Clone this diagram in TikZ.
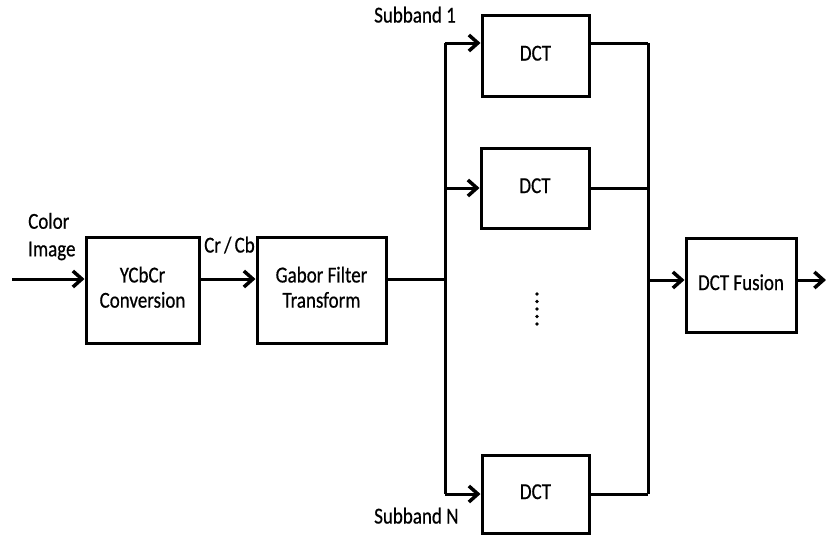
\documentclass[tikz,border=0pt]{standalone}
\usepackage{fontspec}
\setmainfont[FakeBold=0.6]{Carlito}
\usetikzlibrary{arrows.meta}
\newcommand{\stx}[2][c]{\scalebox{1}[1.2]{\begin{tabular}{@{}#1@{}}#2\end{tabular}}}
\begin{document}
\begin{tikzpicture}[x=1pt,y=-1pt,
  blk/.style={draw,line width=3pt,rectangle,inner sep=0pt,font=\fontsize{19}{21}\selectfont},
  wire/.style={line width=3pt},
  arr/.style={line width=3pt,-{Straight Barb[length=9pt,width=16pt,line width=3.5pt]}},
  lbl/.style={inner sep=0pt,font=\fontsize{19}{23}\selectfont}]
\useasboundingbox (0,0) rectangle (826,536);
% blocks
\node[blk,minimum width=113pt,minimum height=106pt] (ycc) at (142.5,290) {\stx{YCbCr\\Conversion}};
\node[blk,minimum width=129pt,minimum height=106pt] (gab) at (321.5,290) {\stx{Gabor Filter\\Transform}};
\node[blk,minimum width=107pt,minimum height=81pt] (d1) at (535.5,55.5) {\stx{DCT}};
\node[blk,minimum width=108pt,minimum height=80pt] (d2) at (535,188) {\stx{DCT}};
\node[blk,minimum width=107pt,minimum height=78pt] (dn) at (535.5,494) {\stx{DCT}};
\node[blk,minimum width=110pt,minimum height=94pt] (fus) at (741,285) {\stx{DCT Fusion}};
% coordinates
\coordinate (in) at (12,279);
\coordinate (s1) at (445,43);
\coordinate (s2) at (445,188);
\coordinate (sn) at (445,494);
\coordinate (sm) at (445,279);
\coordinate (m1) at (648,43);
\coordinate (m2) at (648,188);
\coordinate (mn) at (648,494);
\coordinate (mm) at (648,280);
\coordinate (out) at (826,280);
% connectors
\draw[arr] (in) -- (ycc.west |- in);
\draw[arr] (ycc.east |- in) -- (gab.west |- in);
\draw[wire] (gab.east |- sm) -- (sm);
\draw[wire] (s1) -- (sn);
\draw[arr] (s1) -- (d1.west |- s1);
\draw[arr] (s2) -- (d2.west);
\draw[arr] (sn) -- (dn.west);
\draw[wire] (d1.east |- m1) -- (m1);
\draw[wire] (d2.east) -- (m2);
\draw[wire] (dn.east) -- (mn);
\draw[wire] (m1) -- (mn);
\draw[arr] (mm) -- (fus.west |- mm);
\draw[arr] (fus.east |- out) -- (out);
% dots
\foreach \yy in {294,301.5,309,316.5,324} \fill (537,\yy) circle (1.8pt);
% labels
\node[lbl,anchor=west] (ci) at (28,237) {\stx[l]{Color\\Image}};
\node[lbl,anchor=west] (crcb) at (204,247) {\stx{Cr\,/\,Cb}};
\node[lbl,anchor=west] (sb1) at (374,17) {\stx{Subband 1}};
\node[lbl,anchor=west] (sbn) at (374,518) {\stx{Subband N}};
\end{tikzpicture}
\end{document}
